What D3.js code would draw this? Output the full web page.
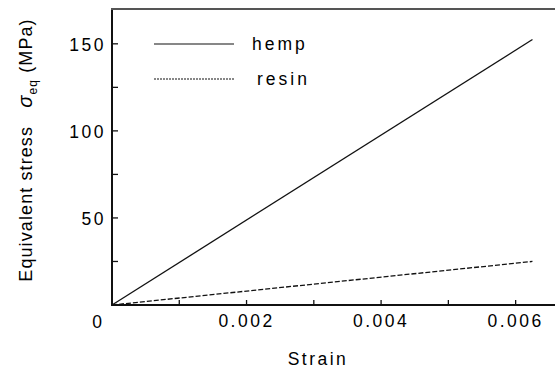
<!DOCTYPE html>
<html>
<head>
<meta charset="utf-8">
<script src="https://cdn.jsdelivr.net/npm/d3@7"></script>
<style>
	body { margin: 0; background: #fff; }
	text { font-family: "Liberation Sans", Arial, sans-serif; fill: #000; }
</style>
</head>
<body>
<script>

// data
var seriesNames = ["hemp", "resin"];
var strain = [0, 0.00625];
var hempStress = [0, 152.5];
var resinStress = [0, 25];
var xTicks = [0.002, 0.004, 0.006];
var xMinorTicks = [0.001, 0.003, 0.005];
var yTicks = [50, 100, 150];
var yMinorTicks = [25, 75, 125];

window.onload = function() {
	drawChart();
};

function drawChart() {

	var width = 555;
	var height = 370;

	var svg = d3.select("body")
				.append("svg")
				.attr("width", width)
				.attr("height", height);

	// scales
	var xScale = d3.scaleLinear()
			.domain([0, 0.0066])
			.range([112, 556]);

	var yScale = d3.scaleLinear()
			.domain([0, 170])
			.range([305, 9]);

	// frame: left, top and bottom (right side is off the page)
	svg.append("line")
	   .attr("x1", xScale(0)).attr("x2", xScale(0))
	   .attr("y1", yScale(170)).attr("y2", yScale(0))
	   .style("stroke", "#111").style("stroke-width", 2);

	svg.append("line")
	   .attr("x1", xScale(0) - 1).attr("x2", width)
	   .attr("y1", yScale(170)).attr("y2", yScale(170))
	   .style("stroke", "#555").style("stroke-width", 2);

	svg.append("line")
	   .attr("x1", xScale(0) - 1).attr("x2", width)
	   .attr("y1", yScale(0)).attr("y2", yScale(0))
	   .style("stroke", "#111").style("stroke-width", 2);

	// inward ticks on the x axis
	svg.selectAll(".xtick")
	   .data(xTicks.concat(xMinorTicks))
	   .enter()
	   .append("line")
	   .attr("class", "xtick")
	   .attr("x1", function(d){ return xScale(d); })
	   .attr("x2", function(d){ return xScale(d); })
	   .attr("y1", yScale(0))
	   .attr("y2", yScale(0) - 5)
	   .style("stroke", "#111")
	   .style("stroke-width", 1.3);

	// inward ticks on the y axis
	svg.selectAll(".ytick")
	   .data(yTicks.concat(yMinorTicks))
	   .enter()
	   .append("line")
	   .attr("class", "ytick")
	   .attr("x1", xScale(0))
	   .attr("x2", xScale(0) + 6)
	   .attr("y1", function(d){ return yScale(d); })
	   .attr("y2", function(d){ return yScale(d); })
	   .style("stroke", "#111")
	   .style("stroke-width", 1.3);

	// tick labels
	svg.selectAll(".xlabel")
	   .data(xTicks)
	   .enter()
	   .append("text")
	   .attr("class", "xlabel")
	   .attr("x", function(d){ return xScale(d); })
	   .attr("y", 327)
	   .style("text-anchor", "middle")
	   .style("font-size", "17.5px")
	   .style("letter-spacing", "2.5px")
	   .text(function(d){ return d3.format(".3f")(d); });

	svg.selectAll(".ylabel")
	   .data(yTicks)
	   .enter()
	   .append("text")
	   .attr("class", "ylabel")
	   .attr("x", 106)
	   .attr("y", function(d){ return yScale(d) + 7; })
	   .style("text-anchor", "end")
	   .style("font-size", "17.5px")
	   .style("letter-spacing", "2.5px")
	   .text(function(d){ return d; });

	// single zero at the corner
	svg.append("text")
	   .attr("x", 97)
	   .attr("y", 328)
	   .style("text-anchor", "middle")
	   .style("font-size", "17.5px")
	   .text("0");

	// axis titles
	svg.append("text")
	   .attr("x", 318)
	   .attr("y", 365)
	   .style("text-anchor", "middle")
	   .style("font-size", "17.5px")
	   .style("letter-spacing", "2.5px")
	   .text("Strain");

	var yTitle = svg.append("text")
	   .attr("transform", "translate(32,150) rotate(-90)")
	   .style("text-anchor", "middle")
	   .style("font-size", "18px")
	   .style("letter-spacing", "1.1px");

	yTitle.append("tspan").text("Equivalent stress \u00a0 ");
	yTitle.append("tspan").style("font-style", "italic").style("font-size", "20px").text("\u03c3");
	yTitle.append("tspan").attr("dy", 5).style("font-size", "12px").text("eq");
	yTitle.append("tspan").attr("dy", -5).text(" (MPa)");

	// lines
	var line = d3.line()
				.x(function(d){ return xScale(d[0]); })
				.y(function(d){ return yScale(d[1]); });

	svg.append("path")
	   .datum(d3.zip(strain, hempStress))
	   .attr("d", line)
	   .style("fill", "none")
	   .style("stroke", "#111")
	   .style("stroke-width", 1.3);

	svg.append("path")
	   .datum(d3.zip(strain, resinStress))
	   .attr("d", line)
	   .style("fill", "none")
	   .style("stroke", "#111")
	   .style("stroke-width", 1.3)
	   .style("stroke-dasharray", "5,2");

	// legend
	var dashes = ["none", "2,1"];
	var legendY = [44, 79];

	seriesNames.forEach(function(name, i) {
		svg.append("line")
		   .attr("x1", 154).attr("x2", 234)
		   .attr("y1", legendY[i]).attr("y2", legendY[i])
		   .style("stroke", "#111")
		   .style("stroke-width", 1.2)
		   .style("stroke-dasharray", dashes[i]);

		svg.append("text")
		   .attr("x", i == 0 ? 252 : 257)
		   .attr("y", legendY[i] + 6)
		   .style("font-size", "17.5px")
		   .style("letter-spacing", "3px")
		   .text(name);
	});
}
</script>
</body>
</html>
